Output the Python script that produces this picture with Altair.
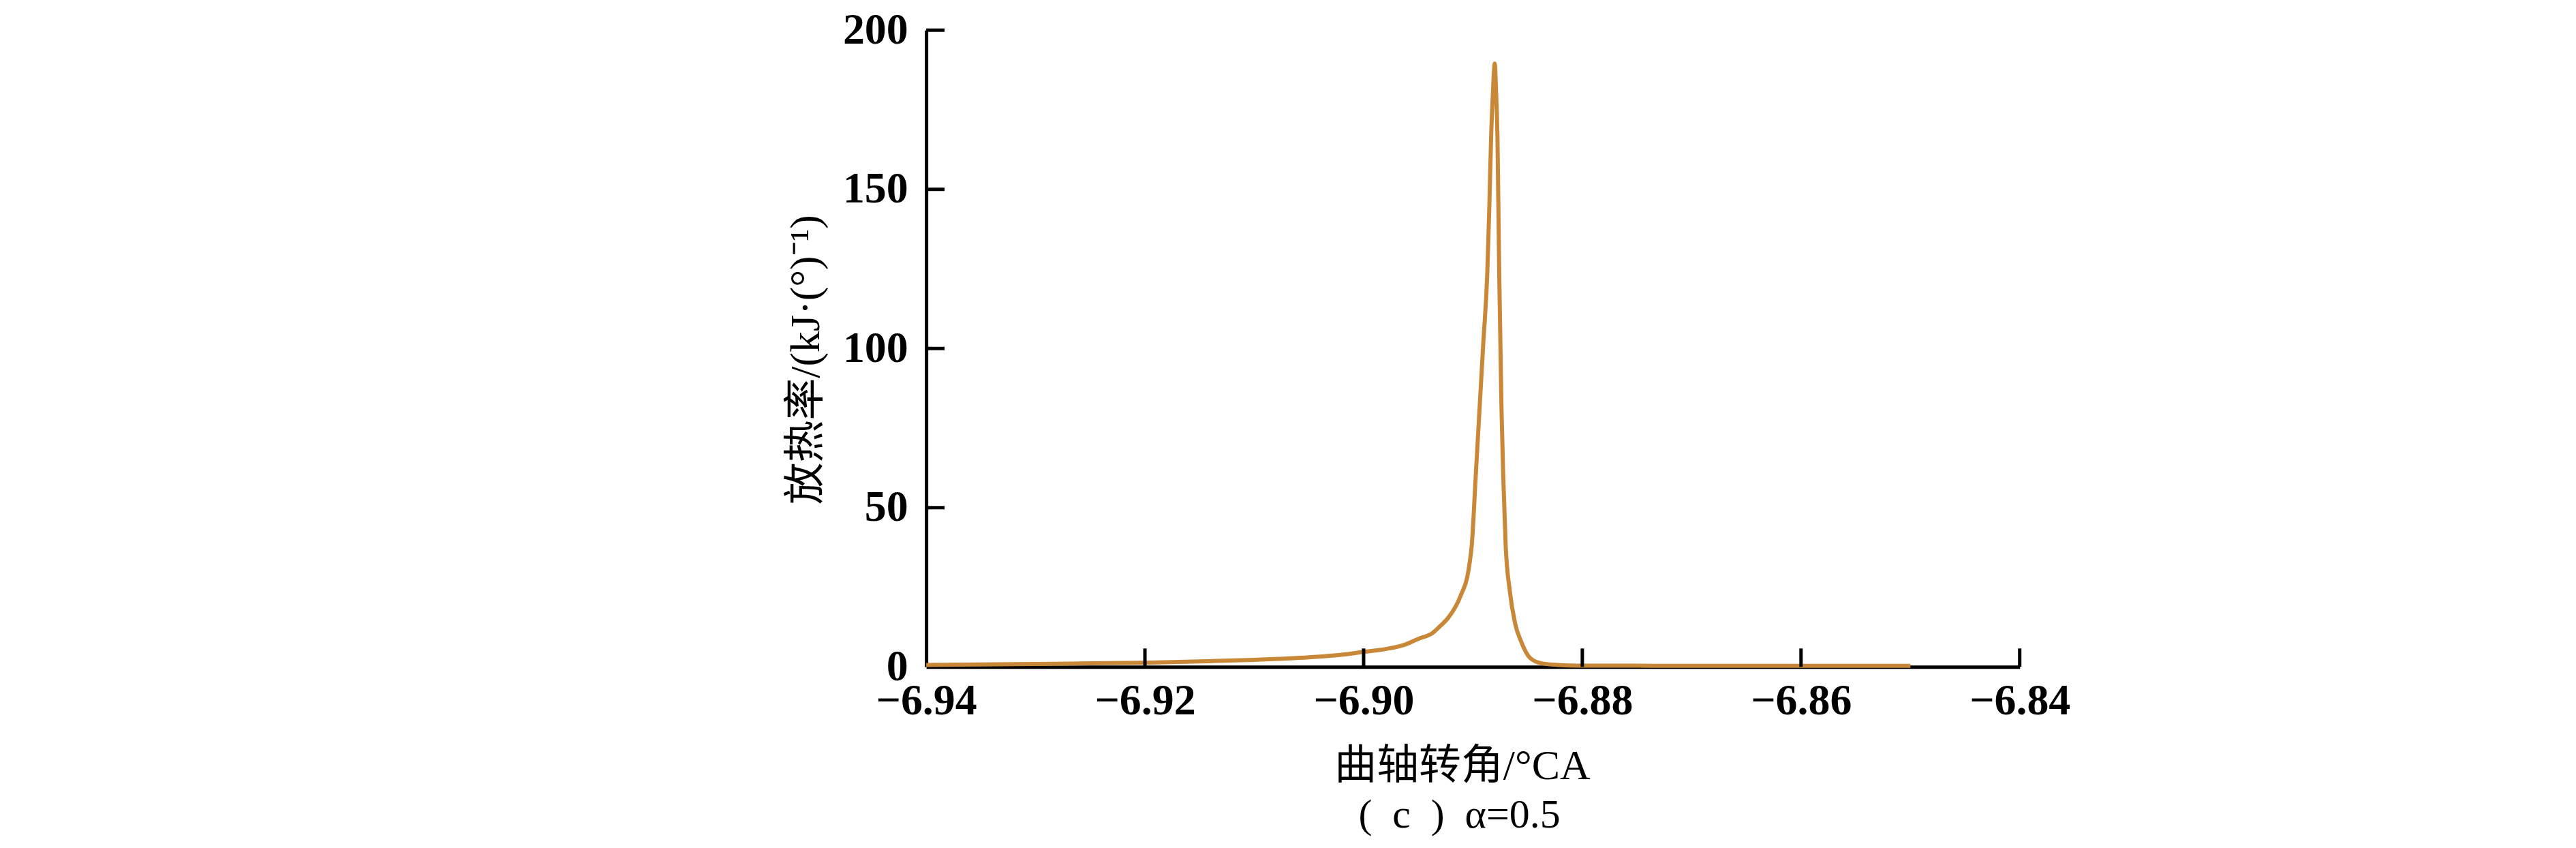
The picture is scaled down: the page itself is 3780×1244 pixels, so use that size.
import altair as alt
import pandas as pd

# crank angle (°CA) and heat release rate (kJ/(°))
angle = [-6.940, -6.935, -6.930, -6.925, -6.920, -6.915, -6.910, -6.905, -6.902,
         -6.900, -6.898, -6.89616, -6.8950, -6.89367, -6.8930, -6.89222, -6.89117,
         -6.89036, -6.89011, -6.88975, -6.88940, -6.88905, -6.88869, -6.88850,
         -6.88834, -6.88818, -6.88801,
         -6.88788, -6.88776, -6.88760, -6.88739, -6.88723, -6.88701, -6.88664,
         -6.88614, -6.88559, -6.88478, -6.88372, -6.88167, -6.880, -6.875, -6.870,
         -6.865, -6.860, -6.855, -6.850]
rate = [0.6, 0.75, 0.9, 1.1, 1.3, 1.7, 2.2, 3.0, 3.8,
        4.7, 5.6, 7.05, 8.8, 10.7, 12.8, 15.6, 22.0,
        31.4, 38.2, 59.8, 81.0, 102.0, 123.7, 145.0,
        166.5, 180.0, 189.5,
        180.0, 166.5, 123.7, 81.0, 59.8, 38.2, 24.1,
        13.5, 7.9, 2.8, 1.1, 0.5, 0.4, 0.35, 0.3,
        0.3, 0.3, 0.3, 0.3]

x_ticks = [-6.92, -6.90, -6.88, -6.86, -6.84]
y_ticks = [50, 100, 150, 200]

WIDTH = 1608
HEIGHT = 936
TICK = 27

df = pd.DataFrame({"angle": angle, "rate": rate})
xt = pd.DataFrame({"t": x_ticks})
yt = pd.DataFrame({"t": y_ticks})

xscale = alt.Scale(domain=[-6.94, -6.84], nice=False, zero=False)
yscale = alt.Scale(domain=[0, 200], nice=False)

label_font = "Liberation Serif"
title_font = "Liberation Serif, Noto Sans CJK SC"

line = alt.Chart(df).mark_line(color="#C98838", strokeWidth=6, interpolate="monotone").encode(
    x=alt.X("angle:Q", scale=xscale,
            axis=alt.Axis(title="曲轴转角/°CA", values=[-6.94] + x_ticks, format=".2f",
                          ticks=False, tickSize=0, grid=False,
                          domainColor="black", domainWidth=5,
                          labelFont=label_font, labelFontWeight="bold", labelFontSize=64,
                          labelColor="black", labelPadding=18, labelFlush=False,
                          labelOverlap=False,
                          titleFont=title_font, titleFontSize=62, titleFontWeight="normal",
                          titleColor="black", titlePadding=34, titleX=788)),
    y=alt.Y("rate:Q", scale=yscale,
            axis=alt.Axis(title="放热率/(kJ·(°)⁻¹)", values=[0] + y_ticks,
                          ticks=False, tickSize=0, grid=False,
                          domainColor="black", domainWidth=5,
                          labelFont=label_font, labelFontWeight="bold", labelFontSize=64,
                          labelColor="black", labelPadding=27, labelFlush=False,
                          labelOverlap=False,
                          titleFont=title_font, titleFontSize=62, titleFontWeight="normal",
                          titleColor="black", titlePadding=22, titleY=484)),
)

xticks = alt.Chart(xt).mark_rule(color="black", strokeWidth=5).encode(
    x=alt.X("t:Q", scale=xscale),
    y=alt.value(HEIGHT),
    y2=alt.value(HEIGHT - TICK),
)

yticks = alt.Chart(yt).mark_rule(color="black", strokeWidth=5).encode(
    y=alt.Y("t:Q", scale=yscale),
    x=alt.value(0),
    x2=alt.value(TICK),
)

chart = alt.layer(line, xticks, yticks).properties(
    width=WIDTH,
    height=HEIGHT,
    background="white",
    title=alt.TitleParams(text="(\u2002c\u2002)\u2002α=0.5", orient="bottom", anchor="middle",
                          font=title_font, fontSize=60, fontWeight="normal",
                          color="black", offset=12, dx=-20),
    padding={"left": 1354, "top": 35, "right": 810, "bottom": 265},
    autosize=alt.AutoSizeParams(type="none"),
).configure_view(stroke=None, strokeWidth=0)

chart.save("out.html", embed_options={"renderer": "svg", "actions": False})
